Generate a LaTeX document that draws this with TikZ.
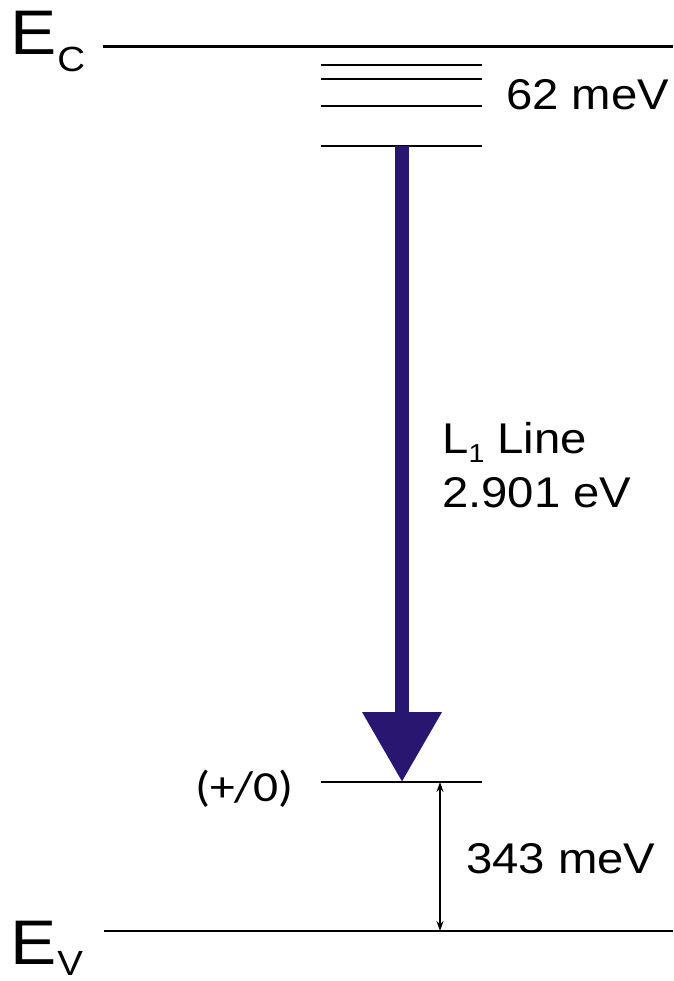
\documentclass[tikz,border=0pt]{standalone}
\usepackage{fontspec}
\usepackage{graphicx}
\setmainfont{Liberation Sans}
\newfontfamily\calfont{Carlito}
\usetikzlibrary{arrows.meta}
\definecolor{arrowblue}{RGB}{40,22,112}
\newcommand{\wx}[1]{\scalebox{1.1}[1]{#1}}
\tikzset{
  band/.style={line width=2.8pt, black},
  sublevel/.style={line width=1.6pt, black},
  lbl/.style={font=\fontsize{43}{48}\selectfont, inner sep=0pt, anchor=base west},
  biglbl/.style={font=\fontsize{63}{63}\selectfont, inner sep=0pt, anchor=base west},
  transition/.style={line width=14pt, arrowblue, -{Triangle[width=76pt,length=70pt]}},
  gap/.style={line width=1.3pt, black, {Stealth[length=10pt,width=7pt]}-{Stealth[length=10pt,width=7pt]}}
}
\begin{document}
\begin{tikzpicture}[x=1pt,y=-1pt]
\useasboundingbox (0,0) rectangle (673,981);
% band edges
\coordinate (ecL) at (103,46.5);
\coordinate (ecR) at (673,46.5);
\coordinate (evL) at (104,931);
\coordinate (evR) at (673,931);
\draw[band] (ecL) -- (ecR);
\draw[band] (evL) -- (evR);
\node[biglbl] (ec) at (10,55) {\wx{E}\kern1pt\raisebox{-17pt}{\fontsize{35}{35}\selectfont\wx{C}}};
\node[biglbl] (ev) at (10,964) {\wx{E}\kern1pt\raisebox{-11pt}{\fontsize{35}{35}\selectfont\wx{V}}};
% shallow levels
\coordinate (a1L) at (321,65);  \coordinate (a1R) at (482,65);
\coordinate (a2L) at (321,79);  \coordinate (a2R) at (482,79);
\coordinate (a3L) at (321,106); \coordinate (a3R) at (482,106);
\coordinate (a4L) at (321,146); \coordinate (a4R) at (482,146);
\draw[sublevel] (a1L) -- (a1R);
\draw[sublevel] (a2L) -- (a2R);
\draw[sublevel] (a3L) -- (a3R);
\draw[sublevel] (a4L) -- (a4R);
\node[lbl] (mev62) at (506,110) {\wx{62 meV}};
% acceptor level
\coordinate (pL) at (321,782); \coordinate (pR) at (482,782);
\draw[sublevel] (pL) -- (pR);
\node[inner sep=0pt, anchor=base west, font=\calfont\fontsize{43}{46}\selectfont] (pz) at (195,801) {\scalebox{1.15}[1]{(+/0)}};
% transition arrow
\coordinate (tTop) at (402,146);
\coordinate (tBot) at (402,782);
\draw[transition] (tTop) -- (tBot);
\node[lbl] (l1) at (442,453) {\wx{L}\raisebox{-9pt}{\fontsize{26}{26}\selectfont\wx{1}}\wx{ Line}};
\node[lbl] (e1) at (442,507) {\wx{2.901 eV}};
% gap arrow
\coordinate (gTop) at (440,782);
\coordinate (gBot) at (440,931);
\draw[gap] (gTop) -- (gBot);
\node[lbl] (mev343) at (466,873) {\wx{343 meV}};
\end{tikzpicture}
\end{document}
